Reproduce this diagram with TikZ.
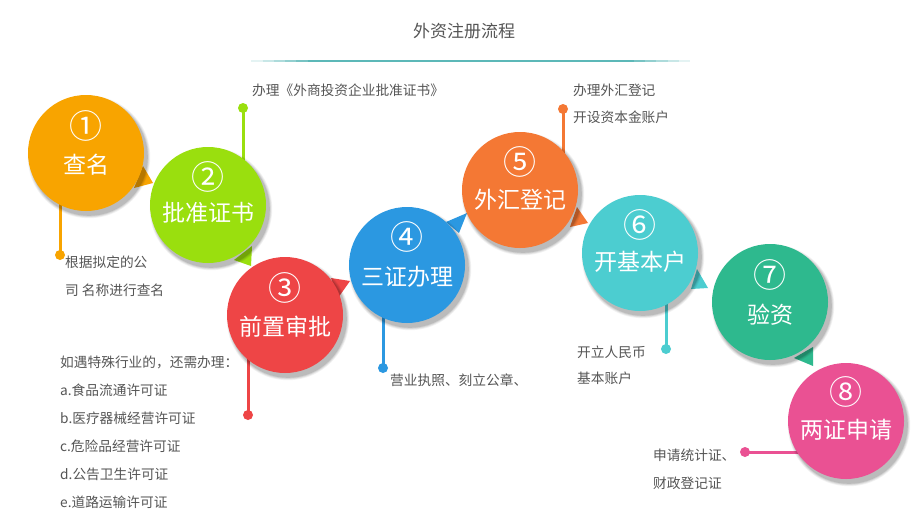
\documentclass[tikz,border=0pt]{standalone}
\usepackage{fontspec}
\setmainfont{Noto Sans CJK SC}
\newfontfamily\cjk{Noto Sans CJK SC}
\definecolor{cA}{HTML}{F8A400}
\definecolor{cB}{HTML}{9ADF0E}
\definecolor{cC}{HTML}{EE4546}
\definecolor{cD}{HTML}{2B98E1}
\definecolor{cE}{HTML}{F47834}
\definecolor{cF}{HTML}{4CCDD0}
\definecolor{cG}{HTML}{2EB98E}
\definecolor{cH}{HTML}{EA5193}
\definecolor{txt}{HTML}{555555}
\definecolor{rule}{HTML}{5CB8B8}
\tikzset{
  circ/.style={circle, minimum size=116pt, inner sep=0pt},
  numtxt/.style={text=white, font=\fontsize{33}{33}\selectfont},
  lbltxt/.style={text=white, font=\fontsize{23}{23}\selectfont},
  note/.style={text=txt, font=\fontsize{13.7}{13.7}\selectfont, anchor=west, inner sep=0pt},
  stemline/.style={line width=3pt},
  dotnode/.style={circle, minimum size=10pt, inner sep=0pt},
}
\newcommand{\shadowcirc}[2]{%
  \foreach \k/\o in {4/0.05,3/0.06,2/0.08,1/0.10}{%
    \fill[black, opacity=\o] ($(#1)+(3,4)$) circle ({#2+\k*0.8});
  }%
}
\usetikzlibrary{calc}
\begin{document}
\begin{tikzpicture}[x=1pt,y=-1pt]
\useasboundingbox[fill=white] (0,0) rectangle (923,527);

% title
\node[text=txt, font=\fontsize{17}{17}\selectfont] (title) at (464,31) {外资注册流程};
\foreach \i in {0,...,40}{
  \pgfmathsetmacro{\op}{min(1,min(\i,40-\i)/6)}
  \draw[rule, line width=1.2pt, opacity=\op] ({240+\i*11.25},61) -- ({240+(\i+1)*11.25},61);
}

% circle centres
\coordinate (pA) at (86,153);
\coordinate (pB) at (208,205);
\coordinate (pC) at (285,315);
\coordinate (pD) at (407,265);
\coordinate (pE) at (520,190);
\coordinate (pF) at (640,253);
\coordinate (pG) at (770,302);
\coordinate (pH) at (846,421);

% stems and dots
\node[dotnode, fill=cA] (dA) at (60,255) {};
\node[dotnode, fill=cB] (dB) at (243,108) {};
\node[dotnode, fill=cC] (dC) at (248,415) {};
\node[dotnode, fill=cD] (dD) at (383,368) {};
\node[dotnode, fill=cE] (dE) at (563,109) {};
\node[dotnode, fill=cF] (dF) at (666,349) {};
\node[dotnode, fill=cH] (dH) at (745,452) {};
\draw[stemline, cA] (dA.center) -- (dA.center |- pA);
\draw[stemline, cB] (dB.center) -- (dB.center |- pB);
\draw[stemline, cC] (dC.center) -- (dC.center |- pC);
\draw[stemline, cD] (dD.center) -- (dD.center |- pD);
\draw[stemline, cE] (dE.center) -- (dE.center |- pE);
\draw[stemline, cF] (dF.center) -- (dF.center |- pF);
\draw[stemline, cH] (dH.center) -- (dH.center -| pH);

% pointer triangles
\fill[cA] (134,188) -- (143,166) -- (153,183) -- cycle;
\fill[cB] (234,260) -- (252,246) -- (251,266) -- cycle;
\fill[cC] (331,278) -- (350,281) -- (338,298) -- cycle;
\fill[cD] (446,222) -- (467,213) -- (459,233) -- cycle;
\fill[cE] (570,227) -- (577,207) -- (588,223) -- cycle;
\fill[cF] (691,289) -- (697,269) -- (708,288) -- cycle;
\fill[cG] (794,358) -- (813,347) -- (813,366) -- cycle;

% shadows
\shadowcirc{pA}{58}
\shadowcirc{pB}{58}
\shadowcirc{pC}{58}
\shadowcirc{pD}{58}
\shadowcirc{pE}{58}
\shadowcirc{pF}{58}
\shadowcirc{pG}{58}
\shadowcirc{pH}{58}

% circles
\node[circ, fill=cA] (cA) at (pA) {};
\node[circ, fill=cB] (cB) at (pB) {};
\node[circ, fill=cC] (cC) at (pC) {};
\node[circ, fill=cD] (cD) at (pD) {};
\node[circ, fill=cE] (cE) at (pE) {};
\node[circ, fill=cF] (cF) at (pF) {};
\node[circ, fill=cG] (cG) at (pG) {};
\node[circ, fill=cH] (cH) at (pH) {};

% circle texts
\node[numtxt] (nA) at ($(pA)+(0,-27)$) {①};
\node[lbltxt] (lA) at ($(pA)+(0,12)$) {查名};
\node[numtxt] (nB) at ($(pB)+(0,-28)$) {②};
\node[lbltxt] (lB) at ($(pB)+(0,8)$) {批准证书};
\node[numtxt] (nC) at ($(pC)+(0,-27)$) {③};
\node[lbltxt] (lC) at ($(pC)+(0,12)$) {前置审批};
\node[numtxt] (nD) at ($(pD)+(0,-28)$) {④};
\node[lbltxt] (lD) at ($(pD)+(0,12)$) {三证办理};
\node[numtxt] (nE) at ($(pE)+(0,-28)$) {⑤};
\node[lbltxt] (lE) at ($(pE)+(0,10)$) {外汇登记};
\node[numtxt] (nF) at ($(pF)+(0,-28)$) {⑥};
\node[lbltxt] (lF) at ($(pF)+(0,9)$) {开基本户};
\node[numtxt] (nG) at ($(pG)+(0,-27)$) {⑦};
\node[lbltxt] (lG) at ($(pG)+(0,13)$) {验资};
\node[numtxt] (nH) at ($(pH)+(0,-29)$) {⑧};
\node[lbltxt] (lH) at ($(pH)+(0,9)$) {两证申请};

% notes
\node[note] (tA1) at (65,262) {根据拟定的公};
\node[note] (tA2) at (65,290) {司 名称进行查名};
\node[note] (tB) at (252,90) {办理《外商投资企业批准证书》};
\node[note] (tC0) at (60,362) {如遇特殊行业的，还需办理：};
\node[note] (tC1) at (60,390) {a.食品流通许可证};
\node[note] (tC2) at (60,418) {b.医疗器械经营许可证};
\node[note] (tC3) at (60,446) {c.危险品经营许可证};
\node[note] (tC4) at (60,474) {d.公告卫生许可证};
\node[note] (tC5) at (60,502) {e.道路运输许可证};
\node[note] (tD) at (390,380) {营业执照、刻立公章、};
\node[note] (tE1) at (573,90) {办理外汇登记};
\node[note] (tE2) at (573,117) {开设资本金账户};
\node[note] (tF1) at (577,352) {开立人民币};
\node[note] (tF2) at (577,378) {基本账户};
\node[note] (tH1) at (653,455) {申请统计证、};
\node[note] (tH2) at (653,483) {财政登记证};
\end{tikzpicture}
\end{document}
